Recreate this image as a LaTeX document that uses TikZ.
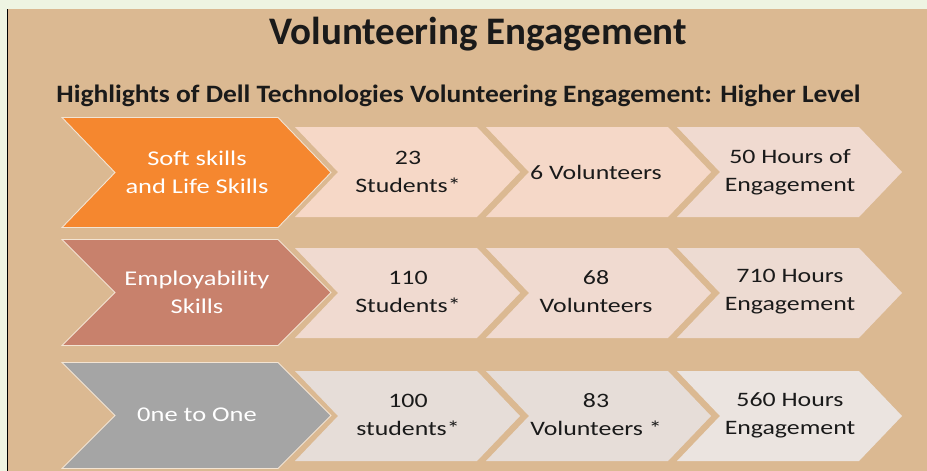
\documentclass[tikz,border=0pt]{standalone}
\usepackage{fontspec}
\setmainfont{Carlito}
\newfontfamily\chevfont[FakeStretch=1.26]{Carlito}
\newfontfamily\headfont[FakeStretch=1.1]{Carlito}
\definecolor{tanbg}{HTML}{DBB992}
\definecolor{greenbg}{HTML}{EEF4E2}
\definecolor{softorange}{HTML}{F5872F}
\definecolor{employred}{HTML}{C8816C}
\definecolor{onegray}{HTML}{A5A5A5}
\definecolor{paleA}{HTML}{F6D8C7}
\definecolor{paleB}{HTML}{F0DAD0}
\definecolor{paleC}{HTML}{E6DDD8}
\definecolor{edgeline}{HTML}{F3E4D3}
\definecolor{inktext}{HTML}{1A1A1A}

% chevron: #1 style, #2 left x, #3 mid y, #4 body width, #5 half height, #6 point depth
\newcommand{\chevron}[6]{%
  \path[#1] (#2,#3-#5) -- ++(#4,0) -- ++(#6,#5) -- ++(-#6,#5) -- ++(-#4,0)
    -- ++(#6,-#5) -- cycle;}

\tikzset{
  bigchev/.style={fill=#1, draw=edgeline, line width=0.9pt},
  palechev/.style={fill=#1},
  bigtext/.style={text=white, align=center, font=\chevfont\fontsize{21}{28}\selectfont},
  paletext/.style={text=inktext, align=center, font=\chevfont\fontsize{20.5}{28}\selectfont},
}

\begin{document}
\begin{tikzpicture}[x=1pt, y=-1pt]
\useasboundingbox (0,0) rectangle (927,471);
\fill[greenbg] (0,0) rectangle (927,471);
\fill[tanbg] (8,9) rectangle (927,471);
\draw[black, line width=1.6pt] (7.5,9) -- (7.5,471);

\node[anchor=base, font=\bfseries\fontsize{39}{44}\selectfont, text=inktext] (title) at (478,45) {Volunteering Engagement};
\node[anchor=base, font=\headfont\bfseries\fontsize{25}{30}\selectfont, text=inktext] (subtitle) at (458.5,102)
  {Highlights of Dell Technologies Volunteering Engagement: Higher Level};

% row 1
\chevron{palechev=paleA}{295}{172}{182}{45}{43}
\chevron{palechev=paleA!85!paleB}{486}{172}{182}{45}{43}
\chevron{palechev=paleB}{677}{172}{182}{45}{43}
\chevron{bigchev=softorange}{62}{172.5}{216}{55}{53}
\node[bigtext] (soft) at (197,172) {Soft skills\\and Life Skills};
\node[paletext] (softA) at (408,172) {23\\Students*};
\node[paletext] (softB) at (596,172) {6 Volunteers};
\node[paletext] (softC) at (790,172) {50 Hours of\\Engagement};

% row 2
\chevron{palechev=paleB}{295}{293}{182}{45}{43}
\chevron{palechev=paleB}{486}{293}{182}{45}{43}
\chevron{palechev=paleB!70!paleC}{677}{293}{182}{45}{43}
\chevron{bigchev=employred}{62}{292.5}{216}{53}{53}
\node[bigtext] (employ) at (197,292) {Employability\\Skills};
\node[paletext] (employA) at (408,292) {110\\Students*};
\node[paletext] (employB) at (596,292) {68\\Volunteers};
\node[paletext] (employC) at (790,292) {710 Hours\\Engagement};

% row 3
\chevron{palechev=paleC}{295}{416}{182}{45}{43}
\chevron{palechev=paleC}{486}{416}{182}{45}{43}
\chevron{palechev=paleC!80!white}{677}{416}{182}{45}{43}
\chevron{bigchev=onegray}{62}{415.5}{216}{53}{53}
\node[bigtext] (one) at (197,415) {0ne to One};
\node[paletext] (oneA) at (408,415) {100\\students*};
\node[paletext] (oneB) at (596,415) {83\\Volunteers *};
\node[paletext] (oneC) at (790,415) {560 Hours\\Engagement};
\end{tikzpicture}
\end{document}
